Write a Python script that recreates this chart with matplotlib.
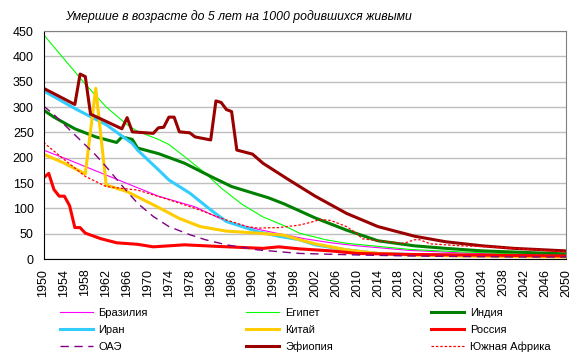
import matplotlib
matplotlib.use('Agg')
import matplotlib.pyplot as plt

# data (years, values per 1000 live births)
brazil_years = [1950, 1955, 1960, 1966, 1972, 1979, 1985, 1990, 1995, 2000, 2005, 2010, 2020, 2030, 2040, 2050]
brazil = [215, 195, 174, 149, 124, 103, 74, 61, 50, 40, 32, 26, 17, 12, 9, 7]

egypt_years = [1950, 1954, 1958, 1962, 1966, 1968, 1972, 1974, 1977, 1981, 1984, 1988, 1992, 1996, 1999,
               2004, 2008, 2014, 2020, 2030, 2040, 2050]
egypt = [443, 394, 345, 300, 265, 252, 236, 226, 202, 169, 140, 108, 83, 66, 51, 38, 31, 25, 19, 14, 10, 8]

india_years = [1950, 1952, 1956, 1960, 1964, 1965, 1967, 1968, 1972, 1977, 1982, 1986, 1993, 1996, 1999,
               2002, 2008, 2014, 2021, 2027, 2034, 2050]
india = [294, 280, 257, 241, 230, 241, 236, 219, 208, 189, 163, 143, 121, 109, 95, 81, 57, 36, 26, 21, 16, 10]

iran_years = [1950, 1956, 1962, 1967, 1968, 1972, 1974, 1978, 1982, 1985, 1988, 1991, 1995, 1999,
              2002, 2008, 2014, 2020, 2030, 2040, 2050]
iran = [332, 297, 265, 228, 215, 176, 156, 130, 97, 74, 64, 54, 45, 38, 28, 18, 11, 9, 7, 6, 5]

china_years = [1950, 1954, 1958, 1960, 1962, 1966, 1971, 1974, 1976, 1980, 1985, 1991, 1996, 1999,
               2002, 2008, 2014, 2020, 2030, 2050]
china = [207, 189, 168, 337, 146, 133, 107, 91, 80, 64, 55, 51, 47, 38, 30, 18, 11, 8, 6, 4]

russia_years = [1950, 1951, 1952, 1953, 1954, 1955, 1956, 1957, 1958, 1961, 1964, 1968, 1971, 1974, 1977,
                1983, 1992, 1995, 1999, 2005, 2010, 2020, 2030, 2040, 2050]
russia = [160, 169, 137, 124, 124, 105, 62, 62, 51, 40, 32, 29, 24, 26, 28, 25, 21, 24, 20, 16, 11, 9, 8, 7, 6]

uae_years = [1950, 1952, 1955, 1958, 1960, 1962, 1965, 1968, 1971, 1974, 1978, 1981, 1985, 1991, 1999,
             2010, 2020, 2030, 2040, 2050]
uae = [302, 285, 255, 225, 205, 182, 145, 110, 84, 64, 48, 38, 28, 18, 11, 8, 6, 5, 4, 4]

ethiopia_years = [1950, 1956, 1957, 1958, 1959, 1965, 1966, 1967, 1971, 1972, 1973, 1974, 1975, 1976, 1978,
                  1979, 1982, 1983, 1984, 1985, 1986, 1987, 1990, 1992, 1997, 2002, 2008, 2014, 2021,
                  2027, 2034, 2040, 2050]
ethiopia = [337, 305, 365, 360, 286, 257, 279, 251, 248, 259, 260, 280, 280, 251, 249, 241, 235, 312, 309,
            295, 291, 215, 207, 189, 156, 124, 90, 64, 45, 34, 26, 21, 16]

safrica_years = [1950, 1954, 1958, 1962, 1968, 1974, 1979, 1985, 1989, 1991, 1995, 1999, 2001, 2003, 2005,
                 2008, 2010, 2011, 2014, 2019, 2021, 2022, 2024, 2030, 2035, 2040, 2050]
safrica = [230, 196, 163, 143, 136, 117, 100, 77, 64, 61, 62, 67, 72, 78, 76, 64, 50, 40, 36, 31, 38, 38, 30,
           26, 24, 21, 14]

xticks = list(range(1950, 2051, 4))
yticks = list(range(0, 451, 50))

plt.rcParams['font.family'] = ['Liberation Sans', 'DejaVu Sans']

fig = plt.figure(figsize=(5.81, 3.55), dpi=100)
ax = fig.add_axes([43.5 / 581, 1 - 259 / 355, (566 - 43.5) / 581, (259 - 31) / 355])

lines = []
lines.append(ax.plot(brazil_years, brazil, color='#FF00FF', lw=0.8, label='Бразилия')[0])
lines.append(ax.plot(egypt_years, egypt, color='#00FF00', lw=0.8, label='Египет')[0])
lines.append(ax.plot(india_years, india, color='#008000', lw=2.2, label='Индия')[0])
lines.append(ax.plot(iran_years, iran, color='#33CCFF', lw=2.2, label='Иран')[0])
lines.append(ax.plot(china_years, china, color='#FFCC00', lw=2.2, label='Китай')[0])
lines.append(ax.plot(russia_years, russia, color='#FF0000', lw=2.2, label='Россия')[0])
lines.append(ax.plot(uae_years, uae, color='#800080', lw=1.0, dashes=(6, 4), label='ОАЭ')[0])
lines.append(ax.plot(ethiopia_years, ethiopia, color='#990000', lw=2.2, label='Эфиопия')[0])
lines.append(ax.plot(safrica_years, safrica, color='#FF0000', lw=0.9, dashes=(2, 1.5), label='Южная Африка')[0])

ax.set_xlim(1950, 2050)
ax.set_ylim(0, 450)
ax.set_xticks(xticks)
ax.set_xticklabels([str(y) for y in xticks], rotation=90, fontsize=9)
ax.set_yticks(yticks)
ax.tick_params(axis='y', labelsize=9, length=0, pad=7)
ax.tick_params(axis='x', length=0, pad=7)
ax.yaxis.grid(True, color='#BFBFBF', lw=1)
ax.set_axisbelow(True)
for s in ['top', 'right']:
    ax.spines[s].set_color('#808080')
for s in ['left', 'bottom']:
    ax.spines[s].set_color('black')

fig.text(238 / 581, 1 - 16.5 / 355, 'Умершие в возрасте до 5 лет на 1000 родившихся живыми',
         ha='center', va='center', style='italic', fontsize=8.8)

# legend is filled column by column, so reorder to read row by row
order = [0, 3, 6, 1, 4, 7, 2, 5, 8]
fig.legend([lines[i] for i in order], [lines[i].get_label() for i in order],
           ncol=3, loc='upper left', bbox_to_anchor=(59.5 / 581, 1 - 308 / 355),
           frameon=False, fontsize=8, borderpad=0, borderaxespad=0,
           handlelength=3.0, handletextpad=0.5, columnspacing=8.85, labelspacing=0.62)

fig.savefig('out.png', dpi=100)
